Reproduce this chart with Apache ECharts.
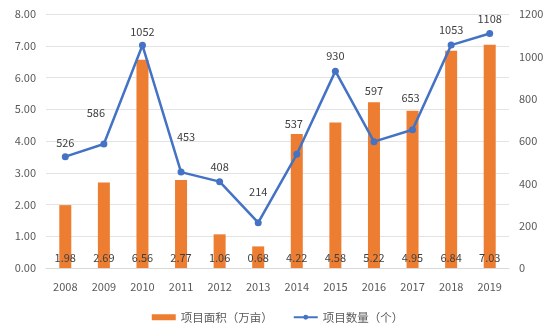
<!DOCTYPE html>
<html>
<head>
<meta charset="utf-8">
<script src="https://cdn.jsdelivr.net/npm/echarts@6/dist/echarts.min.js"></script>
<style>
  html, body { margin: 0; padding: 0; background: #fff; }
  #chart { width: 555px; height: 335px; }
</style>
</head>
<body>
<div id="chart"></div>
<script>
// Years on the category axis
const years = ['2008','2009','2010','2011','2012','2013','2014','2015','2016','2017','2018','2019'];
// Project area, 10k mu (bars, left axis)
const areaValues = [1.98, 2.69, 6.56, 2.77, 1.06, 0.68, 4.22, 4.58, 5.22, 4.95, 6.84, 7.03];
// Project count (line, right axis)
const countValues = [526, 586, 1052, 453, 408, 214, 537, 930, 597, 653, 1053, 1108];
// Series names
const areaName = '项目面积（万亩）';
const countName = '项目数量（个）';

// Per-point nudges for the count labels so they stay clear of the line
const countLabelNudge = [[0,0],[-8,-17],[0,0],[5,-21],[0,-1],[0,-17],[-3,-17],[0,-1],[0,-37],[-2,-18],[0,-1],[0,-1]];

const FONT = '"Noto Sans CJK SC", "Liberation Sans", sans-serif';
const TEXT = '#595959';

const chart = echarts.init(document.getElementById('chart'), null, { renderer: 'canvas' });

chart.setOption({
  backgroundColor: '#ffffff',
  animation: false,
  textStyle: { fontFamily: FONT },
  grid: { left: 46, right: 46, top: 14, bottom: 67, containLabel: false },
  legend: {
    bottom: 7,
    left: 'center',
    itemGap: 20,
    itemWidth: 24,
    itemHeight: 6,
    textStyle: { color: TEXT, fontSize: 11.5, fontFamily: FONT },
    data: [
      { name: areaName, icon: 'rect' },
      { name: countName }
    ]
  },
  xAxis: {
    type: 'category',
    data: years,
    axisLine: { show: true, lineStyle: { color: '#d9d9d9' } },
    axisTick: { show: false },
    axisLabel: { color: TEXT, fontSize: 11, margin: 13, fontFamily: FONT }
  },
  yAxis: [
    {
      type: 'value',
      min: 0, max: 8, interval: 1,
      axisLine: { show: false },
      axisTick: { show: false },
      splitLine: { lineStyle: { color: '#e3e3e3' } },
      axisLabel: { color: TEXT, fontSize: 11, margin: 10, fontFamily: FONT,
        formatter: v => v.toFixed(2) }
    },
    {
      type: 'value',
      min: 0, max: 1200, interval: 200,
      axisLine: { show: false },
      axisTick: { show: false },
      splitLine: { show: false },
      axisLabel: { color: TEXT, fontSize: 11, margin: 10, fontFamily: FONT,
        formatter: v => String(v) }
    }
  ],
  series: [
    {
      name: areaName,
      type: 'bar',
      yAxisIndex: 0,
      data: areaValues,
      barWidth: 12,
      itemStyle: { color: '#ED7D31' },
      label: {
        show: true,
        position: 'insideBottom',
        distance: 5,
        color: '#404040',
        fontSize: 11,
        fontFamily: FONT,
        formatter: p => p.value.toFixed(2)
      },
      z: 2
    },
    {
      name: countName,
      type: 'line',
      yAxisIndex: 1,
      data: countValues.map((v, i) => ({
        value: v,
        label: { offset: countLabelNudge[i] }
      })),
      symbol: 'circle',
      symbolSize: 7,
      lineStyle: { color: '#4472C4', width: 2.5 },
      itemStyle: { color: '#4472C4' },
      label: {
        show: true,
        position: 'top',
        distance: 5,
        color: '#404040',
        fontSize: 11,
        fontFamily: FONT
      },
      z: 3
    }
  ]
});
</script>
</body>
</html>
